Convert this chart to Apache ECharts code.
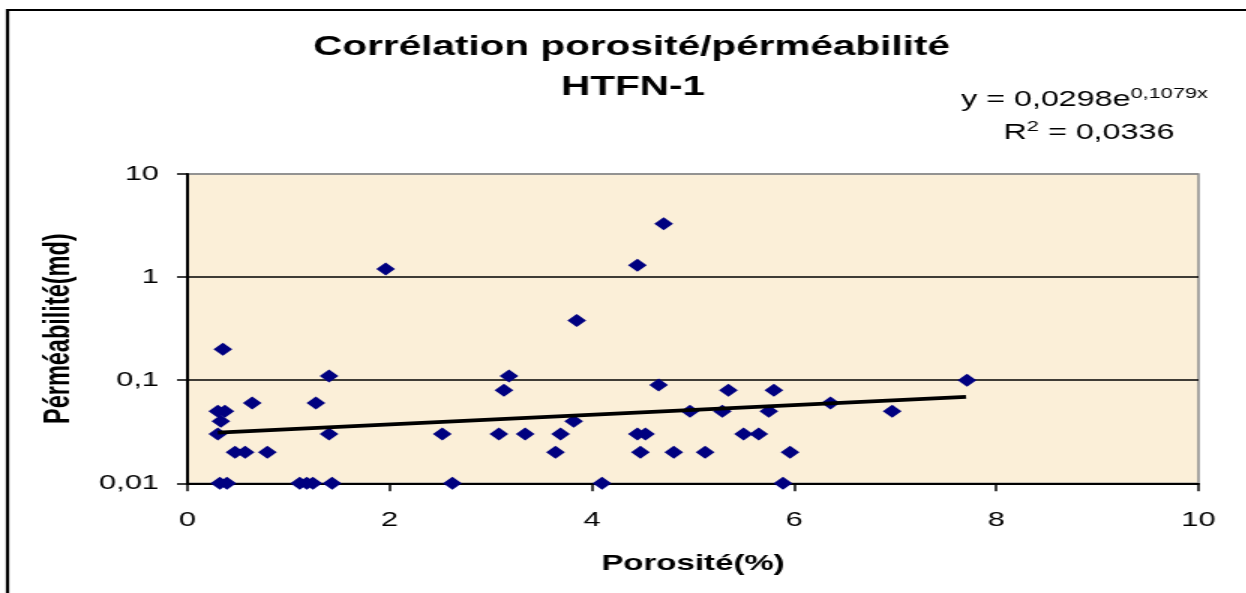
<!DOCTYPE html>
<html>
<head>
<meta charset="utf-8">
<script src="https://cdn.jsdelivr.net/npm/echarts@6/dist/echarts.min.js"></script>
<style>
html,body{margin:0;padding:0;background:#fff;overflow:hidden;}
#c{width:831px;height:593px;transform:scaleX(1.5);transform-origin:0 0;}
</style>
</head>
<body>
<div id="c"></div>
<script>
// Porosité (%) of each sample
const porosite = [0.35,1.40,0.64,1.27,0.30,0.37,0.33,0.30,1.40,0.47,0.57,0.79,0.32,0.39,1.11,1.18,1.24,1.43,
  1.96,4.71,4.45,3.85,3.18,3.13,4.66,2.52,3.08,3.34,3.69,3.82,3.64,4.45,4.53,4.48,4.81,2.62,4.10,
  5.35,5.80,4.97,5.29,5.75,6.36,6.97,7.71,5.50,5.65,5.12,5.96,5.89];
// Perméabilité (md) of each sample
const permeabilite = [0.2,0.11,0.06,0.06,0.05,0.05,0.04,0.03,0.03,0.02,0.02,0.02,0.01,0.01,0.01,0.01,0.01,0.01,
  1.2,3.3,1.3,0.38,0.11,0.08,0.09,0.03,0.03,0.03,0.03,0.04,0.02,0.03,0.03,0.02,0.02,0.01,0.01,
  0.08,0.08,0.05,0.05,0.05,0.06,0.05,0.1,0.03,0.03,0.02,0.02,0.01];
// Exponential trendline end points (straight on a log axis)
const trendX = [0.3, 7.7];
const trendY = [0.031, 0.069];
// Tick labels
const yTickLabels = ['0,01','0,1','1','10'];
const xTickLabels = ['0','2','4','6','8','10'];
const titleLines = ['Corrélation porosité/pérméabilité','HTFN-1'];
const xName = 'Porosité(%)';
const yName = 'Pérméabilité(md)';

const FONT = '"Liberation Sans", Arial, sans-serif';
const chart = echarts.init(document.getElementById('c'), null, {renderer:'canvas'});
const pts = porosite.map((x,i)=>[x, permeabilite[i]]);
const trend = trendX.map((x,i)=>[x, trendY[i]]);

chart.setOption({
  animation:false,
  backgroundColor:'#ffffff',
  grid:{left:125, right:32, top:174, bottom:109.7, show:true, backgroundColor:'#FBEFD8', borderColor:'#8c8c8c', borderWidth:1.5},
  xAxis:{
    type:'value', min:0, max:10, interval:2,
    name:xName, nameLocation:'middle', nameGap:70,
    nameTextStyle:{fontFamily:FONT, fontWeight:'bold', fontSize:22, color:'#000'},
    axisLine:{show:true, onZero:false, lineStyle:{color:'#000', width:2}},
    axisTick:{show:true, length:8, lineStyle:{color:'#000', width:1.5}},
    axisLabel:{fontFamily:FONT, fontSize:20.5, color:'#000', margin:27,
      formatter:(v)=>xTickLabels[Math.round(v/2)]},
    splitLine:{show:false}
  },
  yAxis:{
    type:'log', logBase:10, min:0.01, max:10,
    name:yName, nameLocation:'middle', nameGap:73, nameRotate:90,
    nameTextStyle:{fontFamily:FONT, fontWeight:'bold', fontSize:23.5, color:'#000'},
    axisLine:{show:true, lineStyle:{color:'#000', width:2}},
    axisTick:{show:true, length:7, lineStyle:{color:'#000', width:1.5}},
    axisLabel:{fontFamily:FONT, fontSize:20.5, color:'#000', margin:19,
      formatter:(v)=>yTickLabels[Math.round(Math.log10(v))+2]},
    splitLine:{show:true, lineStyle:{color:['#000','#000','#000','#8c8c8c'], width:1.5}}
  },
  graphic:[
    {type:'rect', shape:{x:5, y:10, width:1200, height:1200}, style:{fill:'none', stroke:'#000', lineWidth:2.2}, silent:true, z:-1},
    {type:'text', x:421, y:48, style:{text:titleLines[0], font:'bold 27px '+FONT, fill:'#000', align:'center', verticalAlign:'middle', textAlign:'center', textVerticalAlign:'middle'}},
    {type:'text', x:422, y:88, style:{text:titleLines[1], font:'bold 27px '+FONT, fill:'#000', align:'center', verticalAlign:'middle', textAlign:'center', textVerticalAlign:'middle'}},
    {type:'text', x:723, y:100, style:{text:'{a|y = 0,0298e}{b|0,1079x}', align:'center', verticalAlign:'middle', textAlign:'center', textVerticalAlign:'middle',
      rich:{a:{fontFamily:FONT, fontSize:21.5, fill:'#000', color:'#000'}, b:{fontFamily:FONT, fontSize:14.5, fill:'#000', color:'#000', padding:[0,0,13,0]}}}},
    {type:'text', x:726, y:133, style:{text:'{a|R}{b|2}{a| = 0,0336}', align:'center', verticalAlign:'middle', textAlign:'center', textVerticalAlign:'middle',
      rich:{a:{fontFamily:FONT, fontSize:21.5, fill:'#000', color:'#000'}, b:{fontFamily:FONT, fontSize:14.5, fill:'#000', color:'#000', padding:[0,0,13,0]}}}}
  ],
  series:[
    {type:'scatter', data:pts, symbol:'diamond', symbolSize:[12.5,13], itemStyle:{color:'#000080', opacity:1}, z:2, silent:true},
    {type:'line', data:trend, showSymbol:false, symbol:'none', lineStyle:{color:'#000', width:3.8}, z:3, silent:true}
  ]
});
</script>
</body>
</html>
